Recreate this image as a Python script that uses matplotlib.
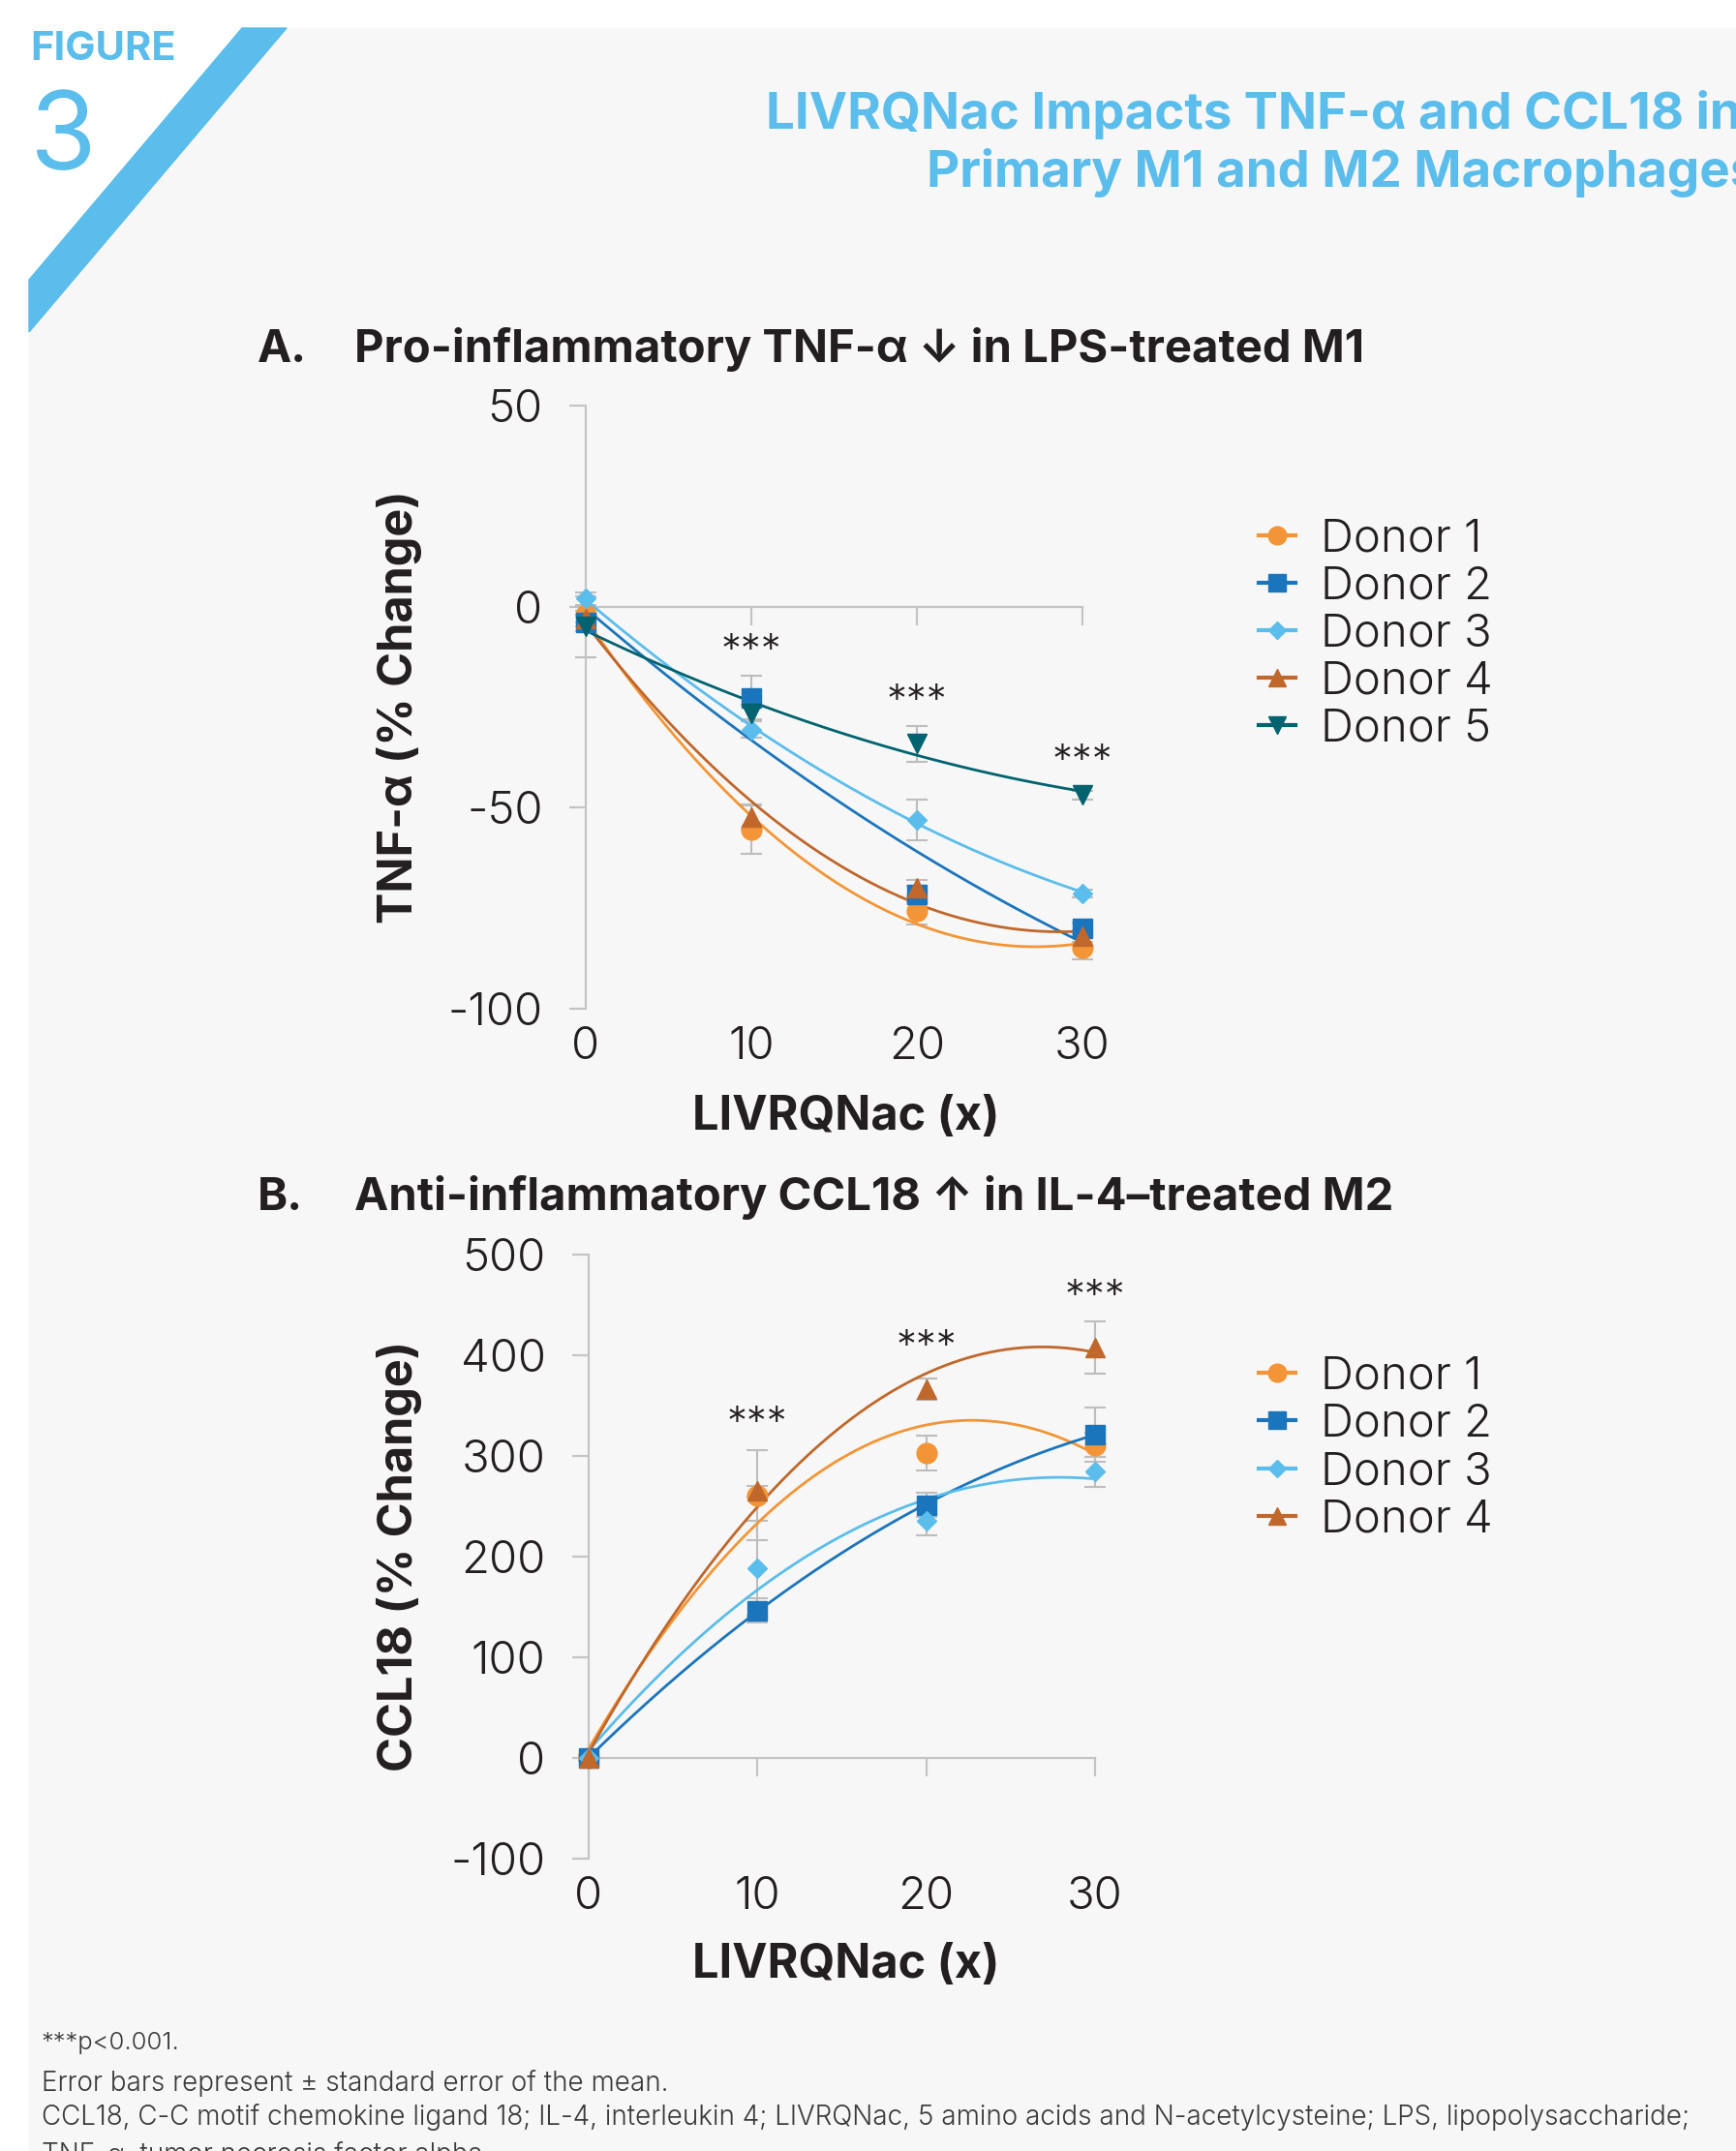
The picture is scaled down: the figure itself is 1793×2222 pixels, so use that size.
import numpy as np
import matplotlib.pyplot as plt
from matplotlib.patches import Polygon, Rectangle
from matplotlib.lines import Line2D

# ---- data ----
dose = [0, 10, 20, 30]
donors_a = ['Donor 1', 'Donor 2', 'Donor 3', 'Donor 4', 'Donor 5']
tnf_d1 = [-2.0, -55.4, -75.6, -84.8]
tnf_d2 = [-4.0, -22.6, -71.5, -80.0]
tnf_d3 = [2.0, -30.6, -53.0, -71.3]
tnf_d4 = [-3.0, -52.3, -70.0, -82.0]
tnf_d5 = [-5.0, -26.5, -34.1, -46.9]
tnf_e1 = [2.0, 6.0, 3.5, 3.0]
tnf_e2 = [2.0, 5.5, 2.0, 1.5]
tnf_e3 = [1.5, 2.0, 5.0, 1.0]
tnf_e4 = [2.0, 3.0, 2.0, 1.5]
tnf_e5 = [7.5, 2.0, 4.5, 1.0]
tnf_star_x = [10, 20, 30]
tnf_star_y = [-6.6, -19.0, -34.0]

donors_b = ['Donor 1', 'Donor 2', 'Donor 3', 'Donor 4']
ccl_d1 = [0, 261, 303, 311]
ccl_d2 = [0, 146.5, 251.3, 321.3]
ccl_d3 = [0, 188.5, 235.4, 284.4]
ccl_d4 = [0, 265, 366.4, 408]
ccl_e1 = [3, 45, 17, 12]
ccl_e2 = [3, 12, 12, 27]
ccl_e3 = [3, 47, 14, 15]
ccl_e4 = [3, 5, 11, 26]
ccl_star_x = [10, 20, 30]
ccl_star_y = [350, 426, 476]

# ---- style ----
colors = ['#f39536', '#1b75bc', '#5bbdeb', '#c0672b', '#00636f']
markers = ['o', 's', 'D', '^', 'v']
msizes = [15, 15, 10.5, 14, 14]
blue = '#5bbdeb'
ink = '#231f20'
grey = '#c4c4c4'

plt.rcParams['font.family'] = ['Inter', 'DejaVu Sans']
plt.rcParams['font.weight'] = 300
plt.rcParams['axes.unicode_minus'] = False

W, H = 1793, 2222
fig = plt.figure(figsize=(W / 100, H / 100), dpi=100)
fig.patch.set_facecolor('white')


def fx(px):
    return px / W


def fy(py):
    return 1 - py / H


# background, white corner and blue stripe
fig.add_artist(Rectangle((fx(30), 0), 1, fy(29), transform=fig.transFigure,
                         color='#f7f7f7', zorder=-3))
fig.add_artist(Polygon([(fx(30), fy(29)), (fx(250), fy(29)), (fx(30), fy(289))],
                       closed=True, transform=fig.transFigure, color='white', zorder=-2))
fig.add_artist(Polygon([(fx(250), fy(29)), (fx(296), fy(29)), (fx(30), fy(343)), (fx(30), fy(289))],
                       closed=True, transform=fig.transFigure, color=blue, zorder=-1))

fig.text(fx(31), fy(62), 'FIGURE', fontsize=30, fontweight='bold', color=blue)
fig.text(fx(31), fy(175), '3', fontsize=80, fontweight='normal', color=blue)
fig.text(fx(791), fy(133), 'LIVRQNac Impacts TNF-α and CCL18 in', fontsize=38,
         fontweight='bold', color=blue)
fig.text(fx(957), fy(193), 'Primary M1 and M2 Macrophages', fontsize=38,
         fontweight='bold', color=blue)

fig.text(fx(266), fy(374), 'A.', fontsize=34, fontweight='bold', color=ink)
fig.text(fx(366), fy(374), 'Pro-inflammatory TNF-α ↓ in LPS-treated M1', fontsize=34,
         fontweight='bold', color=ink)
fig.text(fx(266), fy(1250), 'B.', fontsize=34, fontweight='bold', color=ink)
fig.text(fx(366), fy(1250), 'Anti-inflammatory CCL18 ↑ in IL-4–treated M2', fontsize=34,
         fontweight='bold', color=ink)


def panel(rect, series, errs, names, ylim, yticks, ylabel, star_x, star_y, leg_y):
    ax = fig.add_axes(rect)
    ax.set_facecolor('none')
    ax.set_xlim(0, 30)
    ax.set_ylim(*ylim)
    ax.set_yticks(yticks)
    ax.set_xticks(dose)
    for s in ['top', 'right']:
        ax.spines[s].set_visible(False)
    ax.spines['bottom'].set_position(('data', 0))
    for s in ['left', 'bottom']:
        ax.spines[s].set_color(grey)
        ax.spines[s].set_linewidth(1.6)
    ax.tick_params(axis='x', labelbottom=False, length=14, width=1.6, color=grey)
    ax.tick_params(axis='y', length=12, width=1.6, color=grey, labelsize=34,
                   labelcolor=ink, pad=20)

    sec = ax.secondary_xaxis(0)
    sec.spines['bottom'].set_visible(False)
    sec.set_xticks(dose)
    sec.tick_params(length=0, labelsize=34, labelcolor=ink, pad=13)

    xs = np.linspace(0, 30, 200)
    handles = []
    for i, (y, e) in enumerate(zip(series, errs)):
        c = colors[i]
        ax.errorbar(dose, y, yerr=e, fmt='none', ecolor='#bdbdbd', elinewidth=1.5,
                    capsize=8, capthick=1.5, zorder=2, clip_on=False)
        coef = np.polyfit(dose, y, 2)
        ax.plot(xs, np.polyval(coef, xs), color=c, lw=2.0, zorder=3, clip_on=False)
        ax.plot(dose, y, linestyle='none', marker=markers[i], ms=msizes[i],
                color=c, mec=c, zorder=4, clip_on=False)
        handles.append(Line2D([], [], color=c, lw=3, marker=markers[i],
                              ms=msizes[i] * 0.9, mec=c))

    for x, y in zip(star_x, star_y):
        ax.text(x, y, '***', ha='center', va='top', fontsize=30, color=ink)

    ax.set_ylabel(ylabel, fontsize=35, fontweight='bold', color=ink, va='center')
    ax.yaxis.set_label_coords(fx(412) / rect[2] - rect[0] / rect[2], 0.5)
    ax.set_xlabel('LIVRQNac (x)', fontsize=35, fontweight='bold', color=ink)

    ax.legend(handles, names, loc='center left', bbox_to_anchor=(fx(1300), fy(leg_y)),
              bbox_transform=fig.transFigure, frameon=False, fontsize=34,
              handlelength=0.8, handletextpad=0.55, labelspacing=0.11,
              borderpad=0, borderaxespad=0, labelcolor=ink)
    return ax


rect_a = [fx(605), fy(1042), (1118 - 605) / W, (1042 - 419) / H]
ax_a = panel(rect_a, [tnf_d1, tnf_d2, tnf_d3, tnf_d4, tnf_d5],
             [tnf_e1, tnf_e2, tnf_e3, tnf_e4, tnf_e5], donors_a,
             (-100, 50), [-100, -50, 0, 50], 'TNF-α (% Change)',
             tnf_star_x, tnf_star_y, 655.5)
ax_a.xaxis.set_label_coords((874 - 605) / (1118 - 605), -(1167 - 1042) / (1042 - 419))
ax_a.xaxis.label.set_va('baseline')

rect_b = [fx(608), fy(1920), (1131 - 608) / W, (1920 - 1296) / H]
ax_b = panel(rect_b, [ccl_d1, ccl_d2, ccl_d3, ccl_d4],
             [ccl_e1, ccl_e2, ccl_e3, ccl_e4], donors_b,
             (-100, 500), [-100, 0, 100, 200, 300, 400, 500], 'CCL18 (% Change)',
             ccl_star_x, ccl_star_y, 1496.5)
ax_b.xaxis.set_label_coords((874 - 608) / (1131 - 608), -(2043 - 1920) / (1920 - 1296))
ax_b.xaxis.label.set_va('baseline')

note = '#3a3a3a'
fig.text(fx(43), fy(2117), '***p<0.001.', fontsize=18.5, color=note)
fig.text(fx(43), fy(2160), 'Error bars represent ± standard error of the mean.', fontsize=20, color=note)
fig.text(fx(43), fy(2195), 'CCL18, C-C motif chemokine ligand 18; IL-4, interleukin 4; LIVRQNac, '
         '5 amino acids and N-acetylcysteine; LPS, lipopolysaccharide;', fontsize=20, color=note)
fig.text(fx(43), fy(2234), 'TNF-α, tumor necrosis factor alpha', fontsize=20, color=note)

fig.savefig('out.png', dpi=100)
